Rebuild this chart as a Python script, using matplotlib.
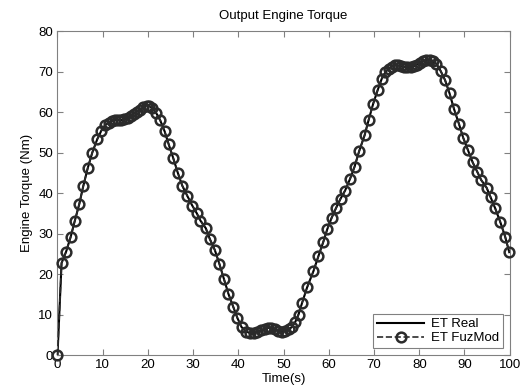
import matplotlib
matplotlib.use("Agg")
import matplotlib.pyplot as plt

# time stamps (s) and engine torque (Nm)
t = [0, 0.9, 1.9, 2.9, 3.8, 4.8, 5.7, 6.7, 7.7, 8.8, 9.7, 10.5, 11.3, 12.0,
     12.7, 13.4, 14.1, 14.8, 15.5, 16.2, 16.9, 17.6, 18.3, 19.0, 19.7, 20.3,
     21.0, 21.8, 22.7, 23.7, 24.6, 25.6, 26.6, 27.6, 28.7, 29.8, 30.8, 31.6,
     32.8, 33.7, 34.8, 35.8, 36.8, 37.8, 38.9, 39.8, 40.7, 41.7, 42.6, 43.4,
     44.2, 45.0, 45.8, 46.5, 47.2, 48.0, 48.8, 49.6, 50.4, 51.2, 51.9, 52.6,
     53.3, 54.1, 55.2, 56.6, 57.7, 58.8, 59.7, 60.6, 61.6, 62.6, 63.6, 64.7,
     65.7, 66.7, 67.9, 68.8, 69.8, 70.8, 71.7, 72.5, 73.2, 73.9, 74.6, 75.3,
     76.0, 76.7, 77.4, 78.1, 78.8, 79.5, 80.2, 80.9, 81.6, 82.3, 83.0, 83.8,
     84.7, 85.7, 86.7, 87.7, 88.8, 89.7, 90.8, 91.8, 92.8, 93.7, 94.9, 95.8,
     96.8, 97.9, 99.0, 99.9]
et_real = [0, 22.7, 25.5, 29.1, 33.0, 37.2, 41.7, 46.2, 50.0, 53.3, 55.4, 56.7,
           57.4, 57.8, 58.0, 58.0, 58.0, 58.2, 58.5, 59.0, 59.6, 60.1, 60.6,
           61.2, 61.6, 61.5, 60.9, 59.8, 58.0, 55.2, 52.0, 48.6, 45.0, 41.8,
           39.3, 36.9, 35.0, 33.2, 31.3, 28.6, 25.9, 22.5, 18.8, 15.1, 11.8,
           9.1, 6.9, 5.8, 5.4, 5.4, 5.7, 6.1, 6.5, 6.7, 6.6, 6.3, 6.0, 5.8,
           5.9, 6.3, 7.0, 8.2, 10.0, 12.9, 16.7, 20.7, 24.4, 28.0, 31.2, 33.8,
           36.3, 38.6, 40.6, 43.5, 46.5, 50.3, 54.2, 58.0, 62.0, 65.4, 68.2,
           69.8, 70.7, 71.2, 71.5, 71.5, 71.3, 71.1, 71.0, 71.1, 71.3, 71.7,
           72.1, 72.5, 72.8, 72.8, 72.5, 71.9, 70.2, 67.9, 64.6, 60.7, 57.0,
           53.7, 50.5, 47.6, 45.3, 43.2, 41.3, 38.9, 36.2, 32.9, 29.2, 25.4]
et_fuzmod = list(et_real)

plt.rcParams['font.family'] = ['Liberation Sans', 'DejaVu Sans']

fig = plt.figure(figsize=(5.26, 3.89), dpi=100)
ax = fig.add_axes([0.1093, 0.0874, 0.8597, 0.8329])

ax.plot(t, et_real, color='black', lw=1.5, label='ET Real')
ax.plot(t, et_fuzmod, color='#2b2b2b', ls='--', lw=1.2, marker='o',
        ms=7, mfc='none', mec='#2b2b2b', mew=1.8, label='ET FuzMod',
        clip_on=False, zorder=3)

ax.set_xlim(0, 100)
ax.set_ylim(0, 80)
ax.set_xticks(range(0, 101, 10))
ax.set_yticks(range(0, 81, 10))
ax.tick_params(direction='in', top=True, right=True, labelsize=9.5,
               length=4, color='#808080', pad=3)
for s in ax.spines.values():
    s.set_color('#808080')

ax.set_title('Output Engine Torque', fontsize=9.5, pad=9)
ax.set_xlabel('Time(s)', fontsize=9.5, labelpad=1)
ax.set_ylabel('Engine Torque (Nm)', fontsize=9.5, labelpad=4)

leg = ax.legend(loc='lower right', fontsize=9.5, fancybox=False,
                edgecolor='#808080', framealpha=1, handlelength=3.6,
                borderaxespad=0.5, borderpad=0.3, labelspacing=0.15,
                handletextpad=0.5)
leg.get_frame().set_linewidth(0.8)

fig.savefig('out.png', dpi=100)
